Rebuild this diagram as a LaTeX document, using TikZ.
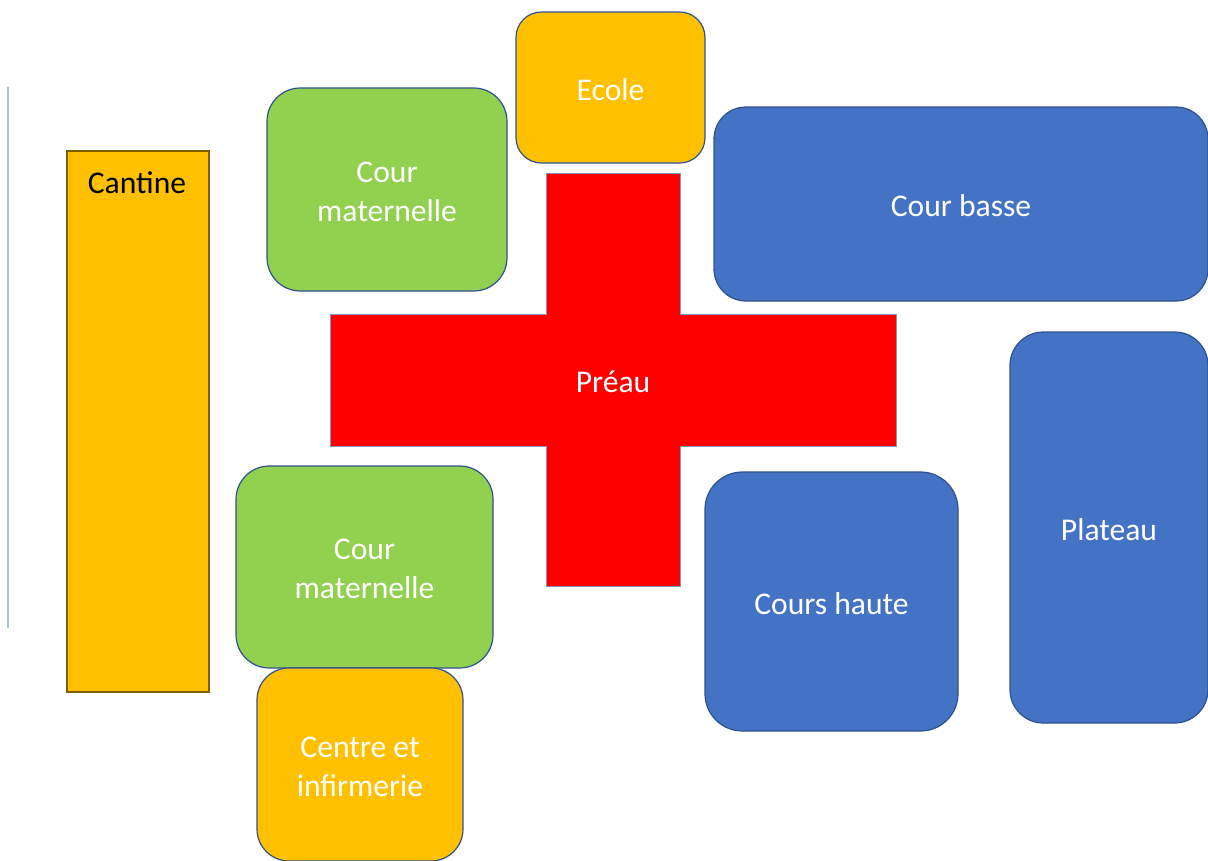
\documentclass[tikz,border=0pt]{standalone}
\usepackage{fontspec}
\setmainfont{Carlito}
\usetikzlibrary{fit}
\definecolor{gold}{HTML}{FFC000}
\definecolor{goldedge}{HTML}{7F6000}
\definecolor{grn}{HTML}{92D050}
\definecolor{blu}{HTML}{4472C4}
\definecolor{edge}{HTML}{2F528F}
\definecolor{lineblue}{HTML}{A9BEE6}
\tikzset{
  zone/.style={draw=edge, line width=0.9pt, inner sep=0pt},
  goldzone/.style={zone, fill=gold},
  greenzone/.style={zone, fill=grn},
  bluezone/.style={zone, fill=blu},
  lbl/.style={text=white, align=center, inner sep=0pt, yshift=-1.5pt, font=\fontsize{23.7}{29.3}\selectfont},
}
\begin{document}
\begin{tikzpicture}[x=0.75pt,y=-0.75pt]
\useasboundingbox (0,0) rectangle (1208,861);
% left thin line
\draw[lineblue, line width=1.3pt] (8,87) -- (8,628);
% Cantine
\node[fit={(67,151) (209,692)}, draw=goldedge, fill=gold, line width=1.2pt, inner sep=0pt] (cantine) {};
\node[lbl, text=black] (cantinelbl) at (137,181) {Cantine};
% Préau cross
\fill[red, draw=edge!60, line width=0.6pt]
  (546,173) -- (680,173) -- (680,314) -- (896,314) -- (896,446) -- (680,446)
  -- (680,586) -- (546,586) -- (546,446) -- (330,446) -- (330,314) -- (546,314) -- cycle;
\node[lbl] (preau) at (613,380) {Préau};
% Ecole
\node[goldzone, rounded corners=19pt, fit={(516,12) (705,163)}] (ecole) {};
\node[lbl] (ecolelbl) at (ecole.center) {Ecole};
% Cour maternelle top
\node[greenzone, rounded corners=25pt, fit={(267,88) (507,291)}] (cmtop) {};
\node[lbl] (cmtoplbl) at (cmtop.center) {Cour\\maternelle};
% Cour basse
\node[bluezone, rounded corners=24pt, fit={(714,107) (1208,301)}] (cbasse) {};
\node[lbl] (cbasselbl) at (cbasse.center) {Cour basse};
% Plateau
\node[bluezone, rounded corners=25pt, fit={(1010,332) (1208,723)}] (plateau) {};
\node[lbl] (plateaulbl) at (plateau.center) {Plateau};
% Cours haute
\node[bluezone, rounded corners=28pt, fit={(705,472) (958,731)}] (chaute) {};
\node[lbl] (chautelbl) at (chaute.center) {Cours haute};
% Cour maternelle bottom
\node[greenzone, rounded corners=25pt, fit={(236,466) (493,668)}] (cmbot) {};
\node[lbl] (cmbotlbl) at (cmbot.center) {Cour\\maternelle};
% Centre et infirmerie
\node[goldzone, rounded corners=24pt, fit={(257,668) (463,861)}] (centre) {};
\node[lbl] (centrelbl) at (centre.center) {Centre et\\infirmerie};
\end{tikzpicture}
\end{document}
